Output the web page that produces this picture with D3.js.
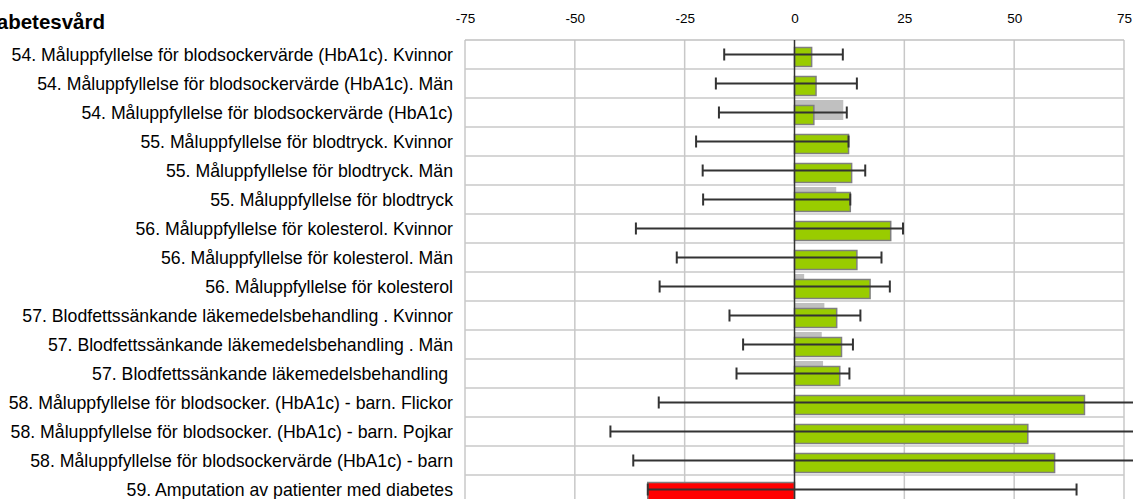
<!DOCTYPE html>
<html>
<head>
<meta charset="utf-8">
<script src="https://cdn.jsdelivr.net/npm/d3@7"></script>
<style>
  body { margin: 0; background: #fff; }
  svg { display: block; font-family: "Liberation Sans", Arial, sans-serif; }
</style>
</head>
<body>
<script>
// row labels, top to bottom
var labels = [
  "54. Måluppfyllelse för blodsockervärde (HbA1c). Kvinnor",
  "54. Måluppfyllelse för blodsockervärde (HbA1c). Män",
  "54. Måluppfyllelse för blodsockervärde (HbA1c)",
  "55. Måluppfyllelse för blodtryck. Kvinnor",
  "55. Måluppfyllelse för blodtryck. Män",
  "55. Måluppfyllelse för blodtryck",
  "56. Måluppfyllelse för kolesterol. Kvinnor",
  "56. Måluppfyllelse för kolesterol. Män",
  "56. Måluppfyllelse för kolesterol",
  "57. Blodfettssänkande läkemedelsbehandling . Kvinnor",
  "57. Blodfettssänkande läkemedelsbehandling . Män",
  "57. Blodfettssänkande läkemedelsbehandling ",
  "58. Måluppfyllelse för blodsocker. (HbA1c) - barn. Flickor",
  "58. Måluppfyllelse för blodsocker. (HbA1c) - barn. Pojkar",
  "58. Måluppfyllelse för blodsockervärde (HbA1c) - barn",
  "59. Amputation av patienter med diabetes"
];
// current value (green / red bars)
var current  = [3.9, 4.9, 4.4, 12.3, 13.0, 12.7, 21.9, 14.2, 17.2, 9.6, 10.7, 10.3, 66.0, 53.1, 59.2, -33.4];
// previous value (grey bars), null = none
var previous = [null, null, 11.1, null, null, 9.5, null, null, 2.2, 6.8, 6.2, 6.5, null, null, null, null];
// interval low / high
var errLow   = [-16.0, -17.9, -17.2, -22.4, -20.9, -20.8, -36.1, -26.8, -30.7, -14.8, -11.7, -13.2, -30.9, -41.9, -36.7, -33.4];
var errHigh  = [11.0, 14.2, 11.9, 12.3, 16.1, 12.7, 24.7, 19.8, 21.7, 15.0, 13.3, 12.5, 82, 82, 82, 64.2];
var ticks = [-75, -50, -25, 0, 25, 50, 75];

var width = 1133, height = 499;
var plotLeft = 465, plotRight = 1124, plotTop = 40, rowH = 29;

var svg = d3.select("body").append("svg")
  .attr("width", width)
  .attr("height", height);

var x = d3.scaleLinear().domain([-75, 75]).range([plotLeft, plotRight]);
var y = d3.scaleBand().domain(d3.range(labels.length))
  .range([plotTop, plotTop + rowH * labels.length]);

// title (left part is cut off in the original)
svg.append("text")
  .attr("x", 105).attr("y", 29)
  .attr("text-anchor", "end")
  .style("font-size", "20.5px").style("font-weight", "bold")
  .text("Diabetesvård");

// tick labels on top
var axis = svg.append("g")
  .attr("transform", "translate(0,26)")
  .call(d3.axisTop(x).tickValues(ticks).tickSize(0).tickFormat(d => String(d)));
axis.select(".domain").remove();
axis.selectAll("text")
  .style("font-size", "13.5px")
  .style("font-family", "Liberation Sans, Arial, sans-serif")
  .attr("fill", "#000");

var bottom = y.range()[1];

// grid
svg.append("g").selectAll("line")
  .data(ticks.filter(d => d != 0))
  .join("line")
  .attr("x1", d => x(d)).attr("x2", d => x(d))
  .attr("y1", plotTop).attr("y2", bottom)
  .attr("stroke", "#c8c8c8").attr("stroke-width", 1.5);

svg.append("g").selectAll("line")
  .data(d3.range(labels.length))
  .join("line")
  .attr("x1", plotLeft).attr("x2", plotRight)
  .attr("y1", d => y(d) + rowH).attr("y2", d => y(d) + rowH)
  .attr("stroke", "#c8c8c8").attr("stroke-width", 1.5);

svg.append("line")
  .attr("x1", plotLeft).attr("x2", plotRight)
  .attr("y1", plotTop).attr("y2", plotTop)
  .attr("stroke", "#c0c0c0").attr("stroke-width", 1.5);

// row labels
svg.append("g").selectAll("text")
  .data(labels)
  .join("text")
  .attr("x", 453)
  .attr("y", (d, i) => y(i) + rowH / 2 + 6.5)
  .attr("text-anchor", "end")
  .style("font-size", "17.7px")
  .style("white-space", "pre")
  .attr("fill", "#000")
  .text(d => d);

// previous year bars
svg.append("g").selectAll("rect")
  .data(previous.map((v, i) => ({v: v, i: i})).filter(d => d.v != null))
  .join("rect")
  .attr("x", d => x(Math.min(0, d.v)))
  .attr("width", d => Math.abs(x(d.v) - x(0)))
  .attr("y", d => y(d.i) + 2)
  .attr("height", 20)
  .attr("fill", "#c0c0c0");

// current bars
svg.append("g").selectAll("rect")
  .data(current)
  .join("rect")
  .attr("x", d => x(Math.min(0, d)))
  .attr("width", d => Math.abs(x(d) - x(0)))
  .attr("y", (d, i) => y(i) + 7.5)
  .attr("height", 19)
  .attr("fill", d => d < 0 ? "#ff0000" : "#99cc00")
  .attr("stroke", "#7f7f7f")
  .attr("stroke-width", 1.5);

// zero line
svg.append("line")
  .attr("x1", x(0)).attr("x2", x(0))
  .attr("y1", plotTop).attr("y2", bottom)
  .attr("stroke", "#333").attr("stroke-width", 1.5);

// error bars
var eb = svg.append("g").attr("stroke", "#333").attr("stroke-width", 2);
labels.forEach(function(l, i) {
  var cy = y(i) + rowH / 2;
  eb.append("line")
    .attr("x1", x(errLow[i])).attr("x2", x(errHigh[i]))
    .attr("y1", cy).attr("y2", cy);
  [errLow[i], errHigh[i]].forEach(function(v) {
    eb.append("line")
      .attr("x1", x(v)).attr("x2", x(v))
      .attr("y1", cy - 6).attr("y2", cy + 6);
  });
});
</script>
</body>
</html>
